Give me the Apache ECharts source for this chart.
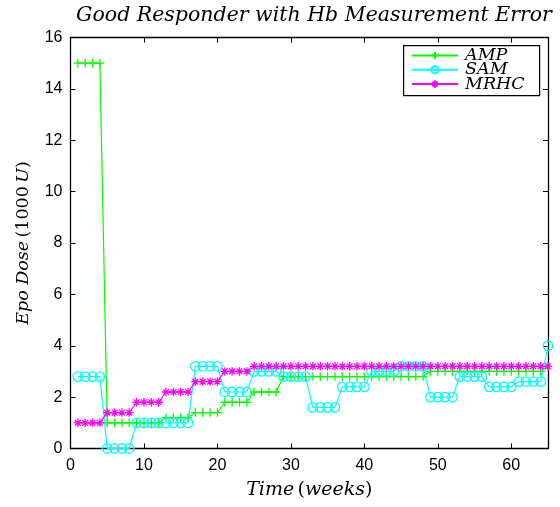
<!DOCTYPE html>
<html><head><meta charset="utf-8">
<script src="https://cdn.jsdelivr.net/npm/echarts@6/dist/echarts.min.js"></script>
<style>html,body{margin:0;padding:0;background:#fff}#c{width:560px;height:507px}</style>
</head><body><div id="c"></div>
<script>
const weeks = [1,2,3,4,5,6,7,8,9,10,11,12,13,14,15,16,17,18,19,20,21,22,23,24,25,26,27,28,29,30,31,32,33,34,35,36,37,38,39,40,41,42,43,44,45,46,47,48,49,50,51,52,53,54,55,56,57,58,59,60,61,62,63,64,65];
const amp = [15,15,15,15, 1,1,1,1,1,1,1,1, 1.2,1.2,1.2,1.2, 1.4,1.4,1.4,1.4, 1.8,1.8,1.8,1.8, 2.2,2.2,2.2,2.2,
  2.8,2.8,2.8,2.8,2.8,2.8,2.8,2.8,2.8,2.8,2.8,2.8,2.8,2.8,2.8,2.8,2.8,2.8,2.8,2.8,
  3,3,3,3,3,3,3,3,3,3,3,3,3,3,3,3, 3.2];
const sam = [2.8,2.8,2.8,2.8, 0,0,0,0, 1,1,1,1,1,1,1,1, 3.2,3.2,3.2,3.2, 2.2,2.2,2.2,2.2, 3,3,3,3, 2.8,2.8,2.8,2.8,
  1.6,1.6,1.6,1.6, 2.4,2.4,2.4,2.4, 3,3,3,3, 3.2,3.2,3.2,3.2, 2,2,2,2, 2.8,2.8,2.8,2.8, 2.4,2.4,2.4,2.4, 2.6,2.6,2.6,2.6, 4];
const mrhc = [1,1,1,1, 1.4,1.4,1.4,1.4, 1.8,1.8,1.8,1.8, 2.2,2.2,2.2,2.2, 2.6,2.6,2.6,2.6, 3,3,3,3,
  3.2,3.2,3.2,3.2,3.2,3.2,3.2,3.2,3.2,3.2,3.2,3.2,3.2,3.2,3.2,3.2,3.2,3.2,3.2,3.2,3.2,3.2,3.2,3.2,3.2,3.2,3.2,3.2,3.2,3.2,3.2,3.2,3.2,3.2,3.2,3.2,3.2,3.2,3.2,3.2,3.2];
const seriesNames = ['AMP', 'SAM', 'MRHC'];
const xTicks = [0,10,20,30,40,50,60];
const yTicks = [0,2,4,6,8,10,12,14,16];

const pair = (ys) => weeks.map((w, i) => [w, ys[i]]);
const PLUS = 'path://M5,0L5,10M0,5L10,5';
const STAR = 'path://M5,0L5,10M0,5L10,5M1.6,1.6L8.4,8.4M1.6,8.4L8.4,1.6';
const serif = 'DejaVu Serif';
const sans = 'Liberation Sans';

function mk(name, ys, color, symbol, size, fill) {
  return {
    name, type: 'line', data: pair(ys), symbol, symbolSize: size, showAllSymbol: true,
    lineStyle: {color, width: 1.2}, itemStyle: {color: fill, borderColor: color, borderWidth: 1.3},
    emphasis: {disabled: true}, animation: false, clip: false
  };
}

const chart = echarts.init(document.getElementById('c'), null, {renderer: 'canvas'});
const axisCommon = {
  min: 0, axisLine: {show: true, onZero: false, lineStyle: {color: '#000', width: 1.3}},
  axisTick: {show: true, inside: true, length: 5, lineStyle: {color: '#000', width: 1}},
  splitLine: {show: false}
};
const legendBase = {
  orient: 'vertical', left: 411, itemWidth: 46, itemHeight: 9, padding: 0,
  textStyle: {fontFamily: serif, fontStyle: 'italic', fontSize: 17.5, color: '#000', padding: [0, 0, 0, 2]}
};
chart.setOption({
  animation: false,
  title: {
    text: 'Good Responder with Hb Measurement Error', left: 309, textAlign: 'center', top: 1,
    textStyle: {fontFamily: serif, fontStyle: 'italic', fontWeight: 'normal', fontSize: 20.5, color: '#000'}
  },
  graphic: [{
    type: 'rect', left: 403, top: 45, z: 5,
    shape: {width: 136, height: 50},
    style: {fill: '#fff', stroke: '#000', lineWidth: 1.2}
  }],
  grid: {left: 70.5, right: 12, top: 37.5, bottom: 58.5, show: false},
  legend: seriesNames.map((n, i) => Object.assign({}, legendBase, {top: 46.5 + i * 14.3, data: [n], z: 6})),
  xAxis: [
    Object.assign({}, axisCommon, {
      type: 'value', position: 'bottom', max: 65, interval: 10,
      axisLabel: {show: true, fontFamily: sans, fontSize: 16, color: '#000', margin: 9,
        formatter: v => xTicks.includes(v) ? String(v) : ''},
      name: '{i|Time} {n|(}{i|weeks}{n|)}', nameLocation: 'middle', nameGap: 32,
      nameTextStyle: {rich: {i: {fontFamily: serif, fontStyle: 'italic', fontSize: 19, color: '#000'},
                             n: {fontFamily: serif, fontSize: 19, color: '#000'}}}
    }),
    Object.assign({}, axisCommon, {
      type: 'value', position: 'top', max: 65, interval: 10, axisLabel: {show: false}
    })
  ],
  yAxis: [
    Object.assign({}, axisCommon, {
      type: 'value', position: 'left', max: 16, interval: 2,
      axisLabel: {show: true, fontFamily: sans, fontSize: 16, color: '#000', margin: 8,
        formatter: v => yTicks.includes(v) ? String(v) : ''},
      name: '{i|Epo Dose} {n|(1000} {i|U}{n|)}', nameLocation: 'middle', nameGap: 38,
      nameTextStyle: {rich: {i: {fontFamily: serif, fontStyle: 'italic', fontSize: 17.5, color: '#000'},
                             n: {fontFamily: serif, fontSize: 17.5, color: '#000'}}}
    }),
    Object.assign({}, axisCommon, {
      type: 'value', position: 'right', max: 16, interval: 2, axisLabel: {show: false}
    })
  ],
  series: [
    mk(seriesNames[0], amp, '#00ff00', PLUS, 8.5, '#00ff00'),
    mk(seriesNames[1], sam, '#00ffff', 'circle', 9.5, 'rgba(0,0,0,0)'),
    mk(seriesNames[2], mrhc, '#ff00ff', STAR, 8.5, '#ff00ff')
  ]
});
</script></body></html>
